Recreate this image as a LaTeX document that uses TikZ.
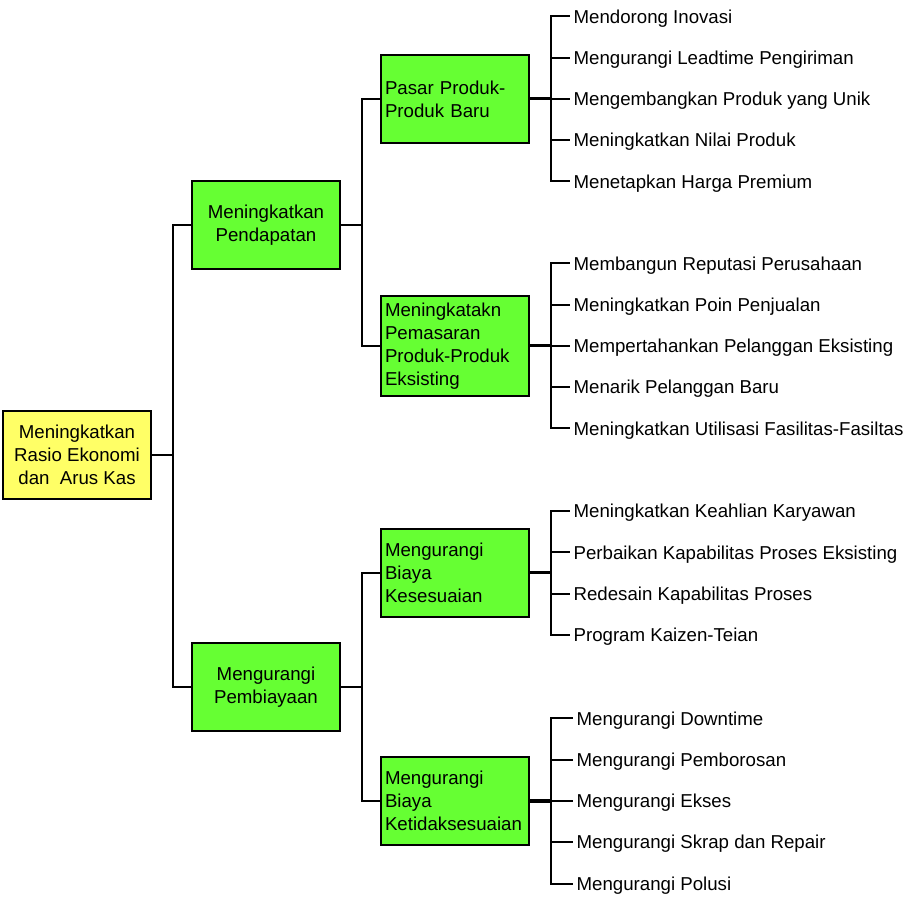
\documentclass[tikz,border=0pt]{standalone}
\usepackage{fontspec}
\setmainfont{Liberation Sans}
\usepackage{xcolor}
\usepackage{tikz}
\definecolor{rootyellow}{HTML}{FFFF66}
\definecolor{boxgreen}{HTML}{66FF33}

\begin{document}
\begin{tikzpicture}[x=0.75pt,y=-0.75pt,
	font=\fontsize{14}{17.25}\selectfont,
	box/.style={draw,line width=1.5pt,minimum width=111pt,minimum height=66pt,inner sep=3pt},
	rootbox/.style={box,fill=rootyellow,align=center},
	midbox/.style={box,fill=boxgreen,align=center},
	subbox/.style={box,fill=boxgreen,text width=105pt,align=left},
	leaf/.style={anchor=west,inner sep=2.5pt,text height=10pt,text depth=0pt},
	link/.style={line width=1.5pt},
	stub/.style={line width=2.25pt}]
	\useasboundingbox (0,0) rectangle (908,898);
	% kotak utama
	\node[rootbox] (rasio) at (77,455) {Meningkatkan\\Rasio Ekonomi\\dan~ Arus Kas};
	\node[midbox] (pendapatan) at (266,225.5) {Meningkatkan\\Pendapatan};
	\node[midbox] (pembiayaan) at (266,687.5) {Mengurangi\\Pembiayaan};
	\node[subbox] (baru) at (455,99) {Pasar Produk-\\Produk Baru};
	\node[subbox,minimum height=75pt] (eksisting) at (455,346) {Meningkatakn\\Pemasaran\\Produk-Produk\\Eksisting};
	\node[subbox] (sesuai) at (455,573) {Mengurangi\\Biaya\\Kesesuaian};
	\node[subbox] (tidaksesuai) at (455,801) {Mengurangi\\Biaya\\Ketidaksesuaian};
	% titik cabang
	\coordinate (j0) at (173,455);
	\coordinate (j1) at (362,225.5);
	\coordinate (j2) at (362,687.5);
	\coordinate (jbaru) at (551,99);
	\coordinate (jeks) at (551,346);
	\coordinate (jses) at (551,573);
	\coordinate (jtid) at (551,801);
	% daun
	\node[leaf] (ba1) at (570,16.5) {Mendorong Inovasi};
	\node[leaf] (ba2) at (570,57.75) {Mengurangi Leadtime Pengiriman};
	\node[leaf] (ba3) at (570,99) {Mengembangkan Produk yang Unik};
	\node[leaf] (ba4) at (570,140.25) {Meningkatkan Nilai Produk};
	\node[leaf] (ba5) at (570,181.5) {Menetapkan Harga Premium};
	\node[leaf] (ek1) at (570,263.5) {Membangun Reputasi Perusahaan};
	\node[leaf] (ek2) at (570,304.75) {Meningkatkan Poin Penjualan};
	\node[leaf] (ek3) at (570,346) {Mempertahankan Pelanggan Eksisting};
	\node[leaf] (ek4) at (570,387.25) {Menarik Pelanggan Baru};
	\node[leaf] (ek5) at (570,428.5) {Meningkatkan Utilisasi Fasilitas-Fasiltas};
	\node[leaf] (se1) at (570,511.1) {Meningkatkan Keahlian Karyawan};
	\node[leaf] (se2) at (570,552.4) {Perbaikan Kapabilitas Proses Eksisting};
	\node[leaf] (se3) at (570,593.6) {Redesain Kapabilitas Proses};
	\node[leaf] (se4) at (570,634.9) {Program Kaizen-Teian};
	\node[leaf] (ti1) at (573,718.5) {Mengurangi Downtime};
	\node[leaf] (ti2) at (573,759.75) {Mengurangi Pemborosan};
	\node[leaf] (ti3) at (573,801) {Mengurangi Ekses};
	\node[leaf] (ti4) at (573,842.25) {Mengurangi Skrap dan Repair};
	\node[leaf] (ti5) at (573,883.5) {Mengurangi Polusi};
	% garis
	\draw[link] (rasio.east) -- (j0);
	\draw[link] (j0) |- (pendapatan.west);
	\draw[link] (j0) |- (pembiayaan.west);
	\draw[link] (pendapatan.east) -- (j1);
	\draw[link] (j1) |- (baru.west);
	\draw[link] (j1) |- (eksisting.west);
	\draw[link] (pembiayaan.east) -- (j2);
	\draw[link] (j2) |- (sesuai.west);
	\draw[link] (j2) |- (tidaksesuai.west);
	\draw[stub] (baru.east) -- (jbaru);
	\draw[stub] (eksisting.east) -- (jeks);
	\draw[stub] (sesuai.east) -- (jses);
	\draw[stub] (tidaksesuai.east) -- (jtid);
	\draw[link] (jbaru) |- (ba1.west);
	\draw[link] (jbaru) |- (ba2.west);
	\draw[link] (jbaru) |- (ba3.west);
	\draw[link] (jbaru) |- (ba4.west);
	\draw[link] (jbaru) |- (ba5.west);
	\draw[link] (jeks) |- (ek1.west);
	\draw[link] (jeks) |- (ek2.west);
	\draw[link] (jeks) |- (ek3.west);
	\draw[link] (jeks) |- (ek4.west);
	\draw[link] (jeks) |- (ek5.west);
	\draw[link] (jses) |- (se1.west);
	\draw[link] (jses) |- (se2.west);
	\draw[link] (jses) |- (se3.west);
	\draw[link] (jses) |- (se4.west);
	\draw[link] (jtid) |- (ti1.west);
	\draw[link] (jtid) |- (ti2.west);
	\draw[link] (jtid) |- (ti3.west);
	\draw[link] (jtid) |- (ti4.west);
	\draw[link] (jtid) |- (ti5.west);
\end{tikzpicture}
\end{document}
